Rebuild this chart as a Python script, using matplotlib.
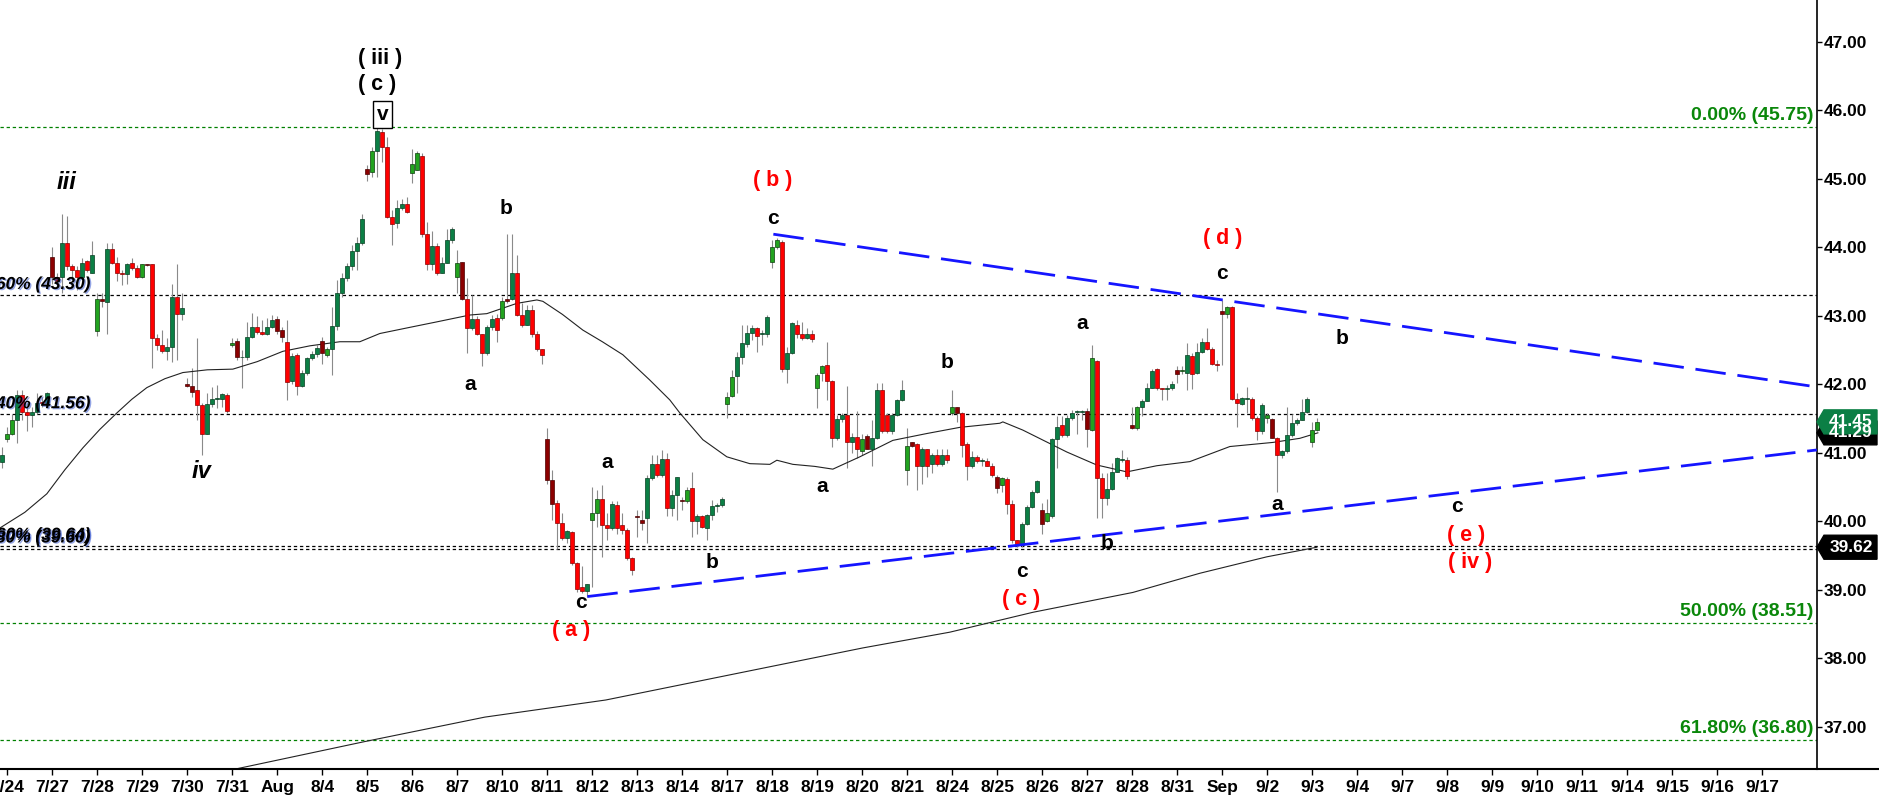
import matplotlib
matplotlib.use('Agg')
import matplotlib.pyplot as plt
import numpy as np
from matplotlib.patches import Polygon
from matplotlib.lines import Line2D
import matplotlib.patheffects as pe

plt.rcParams['font.family'] = ['Liberation Sans', 'DejaVu Sans']
plt.rcParams['lines.scale_dashes'] = False

# ---------------- data (hourly bars, 9 per session: 2 extended + 7 regular) -------------
opens = [40.87, 41.20, 41.28, 41.48, 41.84, 41.60, 41.55, 41.60, 41.73, 41.73,
         43.85, 43.57, 43.57, 44.06, 43.72, 43.66, 43.57, 43.80, 43.63,
         42.77, 43.25, 43.20, 43.97, 43.77, 43.62, 43.61, 43.77, 43.69,
         43.57, 43.75, 43.75, 42.67, 42.57, 42.49, 42.55, 43.27, 43.03,
         42.01, 41.98, 41.92, 41.69, 41.28, 41.71, 41.79, 41.79, 41.84,
         42.57, 42.63, 42.39, 42.40, 42.69, 42.83, 42.76, 42.73, 42.84,
         42.95, 42.79, 42.61, 42.05, 42.42, 41.98, 42.16, 42.38, 42.44,
         42.63, 42.43, 42.51, 42.85, 43.33, 43.55, 43.72, 43.94, 44.06,
         45.14, 45.10, 45.41, 45.68, 45.47, 44.44, 44.35, 44.57, 44.63,
         45.09, 45.13, 45.33, 44.19, 43.75, 44.02, 43.63, 43.77, 44.10,
         43.56, 43.78, 43.24, 42.82, 42.95, 42.73, 42.45, 42.84, 42.96,
         42.96, 43.24, 43.24, 43.63, 43.01, 42.87, 43.08, 42.73, 42.51,
         41.20, 40.60, 40.26, 39.97, 39.76, 39.84, 39.39, 39.04, 38.98,
         40.02, 40.12, 40.33, 39.94, 39.90, 40.24, 39.94, 39.87, 39.46,
         40.08, 40.02, 40.04, 40.63, 40.83, 40.67, 40.91, 40.19, 40.38,
         40.30, 40.29, 40.48, 40.01, 40.08, 39.90, 40.09, 40.22, 40.24,
         41.71, 41.83, 42.12, 42.40, 42.59, 42.75, 42.82, 42.73, 42.73,
         43.79, 44.00, 44.08, 42.22, 42.46, 42.87, 42.74, 42.67, 42.73,
         41.94, 42.17, 42.28, 42.04, 41.21, 41.49, 41.55, 41.15, 41.23,
         41.02, 41.25, 41.06, 41.21, 41.92, 41.55, 41.31, 41.55, 41.77,
         40.75, 41.15, 41.12, 40.81, 41.06, 40.83, 40.97, 40.83, 40.97,
         41.58, 41.66, 41.58, 41.12, 40.80, 40.93, 40.88, 40.88, 40.81,
         40.65, 40.53, 40.61, 40.25, 39.73, 39.65, 39.96, 40.21, 40.43,
         40.16, 40.01, 40.08, 41.20, 41.40, 41.26, 41.50, 41.59, 41.59,
         41.61, 41.33, 42.34, 40.63, 40.34, 40.47, 40.72, 40.90, 40.90,
         41.41, 41.36, 41.67, 41.76, 41.95, 42.22, 41.94, 41.93, 41.95,
         42.21, 42.19, 42.16, 42.41, 42.16, 42.47, 42.62, 42.52, 42.30,
         43.07, 43.03, 43.13, 41.79, 41.71, 41.78, 41.79, 41.50, 41.31,
         41.50, 41.49, 41.22, 40.96, 41.02, 41.26, 41.44, 41.48, 41.60,
         41.16, 41.33]
highs = [41.09, 41.38, 41.57, 41.91, 41.91, 41.72, 41.67, 41.87, 41.82, 41.89,
         44.01, 43.62, 44.49, 44.45, 43.76, 43.72, 43.84, 43.81, 44.09,
         43.33, 43.33, 44.06, 44.06, 43.86, 43.67, 43.77, 43.84, 43.74,
         43.76, 43.76, 43.76, 42.74, 42.79, 42.67, 43.46, 43.75, 43.33,
         42.09, 42.23, 42.68, 41.72, 41.87, 41.96, 41.99, 41.87, 41.87,
         42.68, 42.67, 42.50, 42.91, 43.04, 42.99, 42.94, 42.96, 43.01,
         42.99, 42.84, 42.94, 42.45, 42.45, 42.21, 42.40, 42.48, 42.57,
         42.69, 42.55, 43.13, 43.52, 43.62, 43.77, 44.03, 44.15, 44.49,
         45.20, 45.47, 45.75, 45.72, 45.61, 44.54, 44.69, 44.70, 44.74,
         45.43, 45.40, 45.37, 44.37, 44.24, 44.06, 43.86, 44.26, 44.30,
         43.96, 43.79, 43.55, 43.30, 42.99, 42.74, 42.86, 43.01, 43.03,
         43.28, 44.20, 44.19, 43.88, 43.18, 43.16, 43.16, 42.77, 42.52,
         41.36, 40.75, 40.31, 40.12, 39.87, 39.85, 39.41, 39.34, 39.09,
         40.50, 40.46, 40.53, 40.12, 40.29, 40.29, 40.12, 39.90, 39.48,
         40.16, 40.16, 40.68, 40.97, 40.97, 41.04, 41.00, 40.46, 40.65,
         40.36, 40.50, 40.72, 40.11, 40.09, 40.11, 40.31, 40.26, 40.36,
         41.89, 42.21, 42.47, 42.86, 42.86, 42.86, 42.84, 42.79, 43.01,
         44.11, 44.13, 44.10, 42.55, 42.91, 42.94, 42.91, 42.82, 42.79,
         42.16, 42.28, 42.62, 42.06, 41.55, 41.58, 41.97, 41.29, 41.61,
         41.28, 41.28, 41.48, 42.02, 42.02, 41.58, 41.58, 41.79, 42.06,
         41.36, 41.16, 41.14, 41.09, 41.06, 40.99, 41.06, 41.06, 41.06,
         41.92, 41.66, 41.59, 41.16, 41.02, 40.97, 40.92, 40.92, 40.85,
         40.67, 40.65, 40.65, 40.31, 39.73, 39.99, 40.24, 40.46, 40.60,
         40.26, 40.33, 41.21, 41.53, 41.53, 41.55, 41.62, 41.62, 41.62,
         41.65, 42.57, 42.35, 40.70, 40.70, 40.85, 40.94, 41.04, 40.94,
         41.67, 41.68, 41.79, 42.02, 42.22, 42.23, 41.94, 41.99, 42.04,
         42.27, 42.26, 42.60, 42.45, 42.60, 42.68, 42.82, 42.55, 42.35,
         43.23, 43.14, 43.14, 41.87, 41.82, 41.96, 41.82, 41.53, 41.72,
         41.58, 41.50, 41.23, 41.04, 41.67, 41.57, 41.50, 41.79, 41.82,
         41.45, 41.50]
lows = [40.77, 41.16, 41.26, 41.14, 41.48, 41.31, 41.38, 41.57, 41.67, 41.72,
        43.47, 43.42, 43.33, 43.67, 43.57, 43.38, 43.55, 43.64, 43.62,
        42.70, 43.13, 42.74, 43.76, 43.50, 43.45, 43.47, 43.67, 43.55,
        43.55, 43.72, 42.23, 42.50, 42.45, 42.35, 42.33, 42.35, 42.93,
        41.96, 41.82, 41.48, 40.97, 41.28, 41.67, 41.65, 41.67, 41.58,
        42.55, 42.35, 41.94, 42.35, 42.67, 42.74, 42.72, 42.72, 42.82,
        42.74, 42.62, 41.77, 42.01, 41.84, 41.96, 42.13, 42.35, 42.40,
        42.30, 42.40, 42.13, 42.79, 43.28, 43.50, 43.67, 43.67, 44.03,
        44.97, 45.03, 45.03, 45.25, 44.42, 44.03, 44.28, 44.54, 44.50,
        44.93, 45.12, 44.15, 43.67, 43.67, 43.59, 43.62, 43.77, 44.06,
        43.33, 43.23, 42.45, 42.79, 42.72, 42.26, 42.43, 42.79, 42.62,
        42.94, 43.18, 43.23, 42.99, 42.84, 42.86, 42.69, 42.48, 42.30,
        40.55, 40.02, 39.60, 39.73, 39.68, 39.36, 38.97, 38.95, 38.90,
        39.04, 39.92, 39.48, 39.73, 39.87, 39.82, 39.82, 39.43, 39.22,
        39.77, 39.87, 39.68, 40.60, 40.65, 40.65, 40.07, 40.07, 40.02,
        40.16, 40.26, 39.77, 39.82, 39.90, 39.73, 40.02, 40.14, 40.21,
        41.50, 41.82, 41.87, 42.30, 42.55, 42.65, 42.47, 42.57, 42.69,
        43.69, 43.98, 42.18, 42.02, 42.44, 42.67, 42.64, 42.66, 42.61,
        41.65, 42.04, 41.77, 41.09, 41.19, 41.45, 40.77, 40.99, 40.92,
        40.97, 41.05, 40.80, 41.20, 41.29, 41.29, 41.28, 41.53, 41.75,
        40.53, 41.09, 40.46, 40.55, 40.65, 40.70, 40.80, 40.80, 40.85,
        41.55, 41.45, 40.94, 40.60, 40.77, 40.85, 40.81, 40.80, 40.65,
        40.41, 40.43, 40.11, 39.68, 39.63, 39.63, 39.94, 40.19, 40.41,
        39.82, 39.99, 40.04, 40.77, 41.23, 41.23, 41.48, 41.28, 41.48,
        41.09, 41.32, 40.04, 40.04, 40.24, 40.46, 40.72, 40.87, 40.61,
        41.34, 41.33, 41.53, 41.75, 41.94, 41.92, 41.77, 41.77, 41.92,
        42.02, 42.15, 41.92, 41.93, 42.15, 42.45, 42.50, 42.28, 42.20,
        42.28, 42.96, 41.77, 41.38, 41.70, 41.58, 41.48, 41.19, 41.28,
        41.43, 41.21, 40.43, 40.92, 40.99, 41.23, 41.40, 41.48, 41.58,
        41.09, 41.31]
closes = [40.97, 41.27, 41.48, 41.84, 41.60, 41.55, 41.60, 41.73, 41.72, 41.87,
          43.57, 43.50, 44.06, 43.72, 43.66, 43.57, 43.77, 43.66, 43.88,
          43.24, 43.22, 43.97, 43.77, 43.62, 43.61, 43.76, 43.69, 43.57,
          43.75, 43.74, 42.67, 42.57, 42.49, 42.54, 43.27, 43.02, 43.11,
          41.98, 41.89, 41.69, 41.28, 41.71, 41.79, 41.79, 41.85, 41.61,
          42.60, 42.39, 42.40, 42.69, 42.83, 42.76, 42.73, 42.84, 42.94,
          42.77, 42.69, 42.03, 42.41, 41.98, 42.16, 42.38, 42.44, 42.53,
          42.46, 42.51, 42.85, 43.33, 43.55, 43.72, 43.94, 44.06, 44.41,
          45.07, 45.41, 45.69, 45.47, 44.44, 44.34, 44.57, 44.63, 44.51,
          45.22, 45.38, 44.19, 43.75, 44.02, 43.63, 43.77, 44.10, 44.26,
          43.77, 43.24, 42.82, 42.95, 42.73, 42.45, 42.84, 42.95, 42.79,
          43.21, 43.21, 43.63, 43.01, 42.87, 43.08, 42.73, 42.51, 42.42,
          40.60, 40.25, 39.97, 39.76, 39.85, 39.39, 39.01, 38.98, 39.08,
          40.12, 40.33, 39.94, 39.90, 40.25, 39.90, 39.87, 39.46, 39.29,
          40.06, 39.98, 40.63, 40.83, 40.67, 40.91, 40.20, 40.38, 40.64,
          40.29, 40.46, 40.01, 40.08, 39.91, 40.09, 40.22, 40.24, 40.33,
          41.82, 42.11, 42.40, 42.60, 42.75, 42.82, 42.71, 42.73, 42.98,
          44.00, 44.11, 42.22, 42.46, 42.89, 42.74, 42.67, 42.73, 42.66,
          42.13, 42.26, 42.04, 41.22, 41.49, 41.55, 41.16, 41.23, 41.05,
          41.20, 41.06, 41.21, 41.92, 41.31, 41.31, 41.55, 41.77, 41.92,
          41.10, 41.10, 40.81, 41.06, 40.81, 40.97, 40.83, 40.96, 40.89,
          41.66, 41.58, 41.11, 40.80, 40.93, 40.88, 40.88, 40.81, 40.67,
          40.48, 40.63, 40.25, 39.73, 39.65, 39.96, 40.21, 40.43, 40.58,
          39.96, 40.12, 41.20, 41.38, 41.26, 41.50, 41.58, 41.59, 41.60,
          41.34, 42.38, 40.63, 40.34, 40.47, 40.72, 40.92, 40.90, 40.66,
          41.36, 41.67, 41.76, 41.95, 42.20, 41.94, 41.93, 41.95, 42.00,
          42.15, 42.20, 42.43, 42.15, 42.47, 42.62, 42.52, 42.30, 42.28,
          43.03, 43.13, 41.79, 41.72, 41.80, 41.80, 41.50, 41.31, 41.70,
          41.55, 41.22, 40.96, 41.02, 41.26, 41.44, 41.48, 41.60, 41.78,
          41.33, 41.45]

day_labels = ['7/24', '7/27', '7/28', '7/29', '7/30', '7/31', 'Aug', '8/4', '8/5', '8/6',
              '8/7', '8/10', '8/11', '8/12', '8/13', '8/14', '8/17', '8/18', '8/19', '8/20',
              '8/21', '8/24', '8/25', '8/26', '8/27', '8/28', '8/31', 'Sep', '9/2', '9/3',
              '9/4', '9/7', '9/8', '9/9', '9/10', '9/11', '9/14', '9/15', '9/16', '9/17']

# short moving average (read points: bar index, price)
ma_bar = [-0.5, 4.5, 8.9, 12.5, 16.1, 19.5, 22.9, 25.9, 28.9, 32.5, 36.1, 41.0, 46.1, 51.0,
          56.1, 61.5, 67.5, 71.5, 75.5, 81.5, 86.9, 93.5, 96.9, 102.9, 106.9, 108.1, 112.0,
          116.1, 120.0, 124.1, 129.5, 133.5, 135.5, 140.1, 144.9, 149.5, 153.5, 154.9, 158.1,
          162.5, 166.1, 171.5, 178.1, 184.9, 191.5, 199.5, 200.1, 204.1, 212.9, 218.9, 224.9,
          230.9, 237.5, 245.5, 254.1, 259.5, 263.1]
ma_val = [39.90, 40.13, 40.40, 40.75, 41.07, 41.34, 41.58, 41.78, 41.95, 42.08, 42.17,
          42.21, 42.22, 42.33, 42.48, 42.56, 42.62, 42.62, 42.74, 42.83, 42.91, 43.01, 43.03,
          43.18, 43.23, 43.21, 43.02, 42.79, 42.62, 42.43, 42.06, 41.77, 41.58, 41.19, 40.94,
          40.84, 40.83, 40.89, 40.83, 40.80, 40.76, 40.94, 41.18, 41.28, 41.37, 41.43, 41.45,
          41.33, 41.01, 40.82, 40.72, 40.81, 40.87, 41.09, 41.15, 41.21, 41.29]
# long moving average
lma_bar = [46.5, 72.3, 96.5, 120.7, 172.1, 189.5, 206.1, 226.1, 239.5, 252.9, 262.9]
lma_val = [36.38, 36.78, 37.14, 37.39, 38.15, 38.38, 38.67, 38.96, 39.24, 39.48, 39.62]

# trendlines (bar index, price)
upper_trend = [(154.2, 44.19), (362.9, 41.96)]
lower_trend = [(117.0, 38.90), (362.9, 41.04)]

# retracement levels
black_levels = [43.30, 41.56, 39.64, 39.60]
black_level_text = ['23.60% (43.30)', '76.40% (41.56)', '23.60% (39.64)', '61.80% (39.60)']
green_levels = [45.75, 38.51, 36.80, 36.09]
green_level_text = ['0.00% (45.75)', '50.00% (38.51)', '61.80% (36.80)', '66.70% (36.09)']

# wave labels: text, bar position, price, colour
wave_labels = [
    ('( iii )', 75.5, 46.76, 'black'), ('( c )', 74.9, 46.37, 'black'),
    ('a', 93.5, 41.99, 'black'), ('b', 100.7, 44.57, 'black'),
    ('( b )', 154.1, 44.98, 'red'), ('c', 154.1, 44.42, 'black'),
    ('a', 120.9, 40.85, 'black'), ('c', 115.7, 38.82, 'black'),
    ('( a )', 113.7, 38.40, 'red'), ('b', 141.9, 39.40, 'black'),
    ('a', 164.0, 40.50, 'black'), ('b', 188.9, 42.32, 'black'),
    ('c', 203.9, 39.26, 'black'), ('( c )', 203.7, 38.85, 'red'),
    ('a', 216.0, 42.88, 'black'), ('b', 221.0, 39.68, 'black'),
    ('( d )', 244.0, 44.13, 'red'), ('c', 244.0, 43.61, 'black'),
    ('a', 255.0, 40.25, 'black'), ('b', 268.0, 42.67, 'black'),
    ('c', 291.0, 40.21, 'black'), ('( e )', 292.7, 39.79, 'red'),
    ('( iv )', 293.5, 39.39, 'red'),
]
italic_labels = [('iii', 12.9, 44.94), ('iv', 39.9, 40.72)]
boxed_label = ('v', 76.1, 45.94)

# right-axis price markers: price, text, fill colour (drawn in order)
price_marks = [(41.29, '41.29', 'black'), (41.45, '41.45', '#0B7F45'), (39.62, '39.62', 'black')]

# ---------------- figure -------------------------------------------------------------
W, H = 1879, 798
fig = plt.figure(figsize=(W / 100, H / 100), dpi=100)
ax_w_px, ax_h_px, ax_bottom_px = 1817, 769, H - 769
ax = fig.add_axes([0, ax_bottom_px / H, ax_w_px / W, ax_h_px / H])
ax.set_xlim(-0.466, 362.93)
ax.set_ylim(36.3825, 47.6088)

bars_per_day = 9
n = len(closes)
xs = np.arange(n)
o = np.array(opens); c = np.array(closes); hi = np.array(highs); lo = np.array(lows)

ax.vlines(xs, lo, hi, color='#8a8a8a', lw=0.8, zorder=2)
face, edge = [], []
for i in range(n):
    ext = ((i - 1) % bars_per_day) in (0, 1)
    if c[i] >= o[i]:
        face.append('#22A31F' if ext else '#0B7F45')
        edge.append('#0d3d0d' if ext else '#063d20')
    else:
        face.append('#8B0000' if ext else '#FF0000')
        edge.append('#4a0000' if ext else '#8a0000')
bottoms = np.minimum(o, c)
heights = np.maximum(np.abs(c - o), 0.014)
ax.bar(xs, heights, bottom=bottoms, width=0.8, color=face, edgecolor=edge, linewidth=0.5, zorder=3)

# moving averages
ax.plot(ma_bar, ma_val, color='#222222', lw=0.8, zorder=2.5)
ax.plot(lma_bar, lma_val, color='#222222', lw=0.8, zorder=2.5)

# horizontal levels
for lv in black_levels:
    ax.axhline(lv, color='black', lw=0.9, dashes=(2.4, 2.0), zorder=1)
for lv in green_levels:
    ax.axhline(lv, color='#008000', lw=0.9, dashes=(2.4, 2.0), zorder=1)

shadow = [pe.SimplePatchShadow(offset=(1.0, -0.8), shadow_rgbFace='#3a5ad0', alpha=0.55), pe.Normal()]
for lv, txt in zip(black_levels, black_level_text):
    ax.text(17.6, lv + 0.09, txt, ha='right', va='baseline', fontsize=12.5,
            fontweight='bold', fontstyle='italic', color='black', zorder=5,
            clip_on=True, path_effects=shadow)
for lv, txt in zip(green_levels, green_level_text):
    ax.text(362.2, lv + 0.11, txt, ha='right', va='baseline', fontsize=14,
            fontweight='bold', color='#0a870a', zorder=5, clip_on=True)

# trendlines
for seg in (upper_trend, lower_trend):
    ax.plot([p[0] for p in seg], [p[1] for p in seg], color='#1515ff', lw=2.0,
            dashes=(22, 8.5), zorder=4, solid_capstyle='butt', dash_capstyle='butt')

# wave labels
for txt, bx, py, col in wave_labels:
    ax.text(bx, py, txt, ha='center', va='center', fontsize=15.5 if '(' in txt else 15,
            fontweight='bold', color='#ff0000' if col == 'red' else 'black', zorder=6)
for txt, bx, py in italic_labels:
    ax.text(bx, py, txt, ha='center', va='center', fontsize=17, fontweight='bold',
            fontstyle='italic', color='black', zorder=6)
ax.text(boxed_label[1], boxed_label[2], boxed_label[0], ha='center', va='center', fontsize=15,
        fontweight='bold', color='black', zorder=6,
        bbox=dict(boxstyle='square,pad=0.18', fc='white', ec='black', lw=1.0))

# axes styling
for s in ('top', 'left'):
    ax.spines[s].set_visible(False)
ax.spines['bottom'].set_linewidth(1.5)
ax.spines['right'].set_linewidth(1.2)
ax.yaxis.tick_right()
ax.set_yticks(np.arange(37, 48, 1.0))
ax.set_yticklabels([f'{v:.2f}' for v in np.arange(37, 48, 1.0)])
day_pos = [1 + bars_per_day * k for k in range(len(day_labels))]
ax.set_xticks(day_pos)
ax.set_xticklabels(day_labels)
ax.tick_params(axis='y', direction='out', length=3.6, width=1.0, pad=1.5, labelsize=12.5)
ax.tick_params(axis='x', direction='out', length=4.3, width=1.0, pad=3.5, labelsize=12.5)
for lbl in ax.get_xticklabels() + ax.get_yticklabels():
    lbl.set_fontweight('bold')

# extend bottom axis line across the label column
fig.add_artist(Line2D([ax_w_px / W, 1.0], [ax_bottom_px / H] * 2, transform=fig.transFigure,
                      color='black', lw=1.5))

# price markers on the right axis
tr = ax.get_yaxis_transform()
half = 12 / (ax_h_px / (47.6088 - 36.3825))
x0, x1, x2 = 1.0, 1.0 + 7 / ax_w_px, 1.0 + 60 / ax_w_px
for pv, txt, col in price_marks:
    poly = Polygon([(x0, pv), (x1, pv + half), (x2, pv + half), (x2, pv - half), (x1, pv - half)],
                   closed=True, transform=tr, fc=col, ec=col, clip_on=False, zorder=7)
    ax.add_patch(poly)
    ax.text(1.0 + 34 / ax_w_px, pv, txt, transform=tr, ha='center', va='center', fontsize=12.5,
            fontweight='bold', color='white', clip_on=False, zorder=8)

fig.savefig('out.png', dpi=100, facecolor='white')
